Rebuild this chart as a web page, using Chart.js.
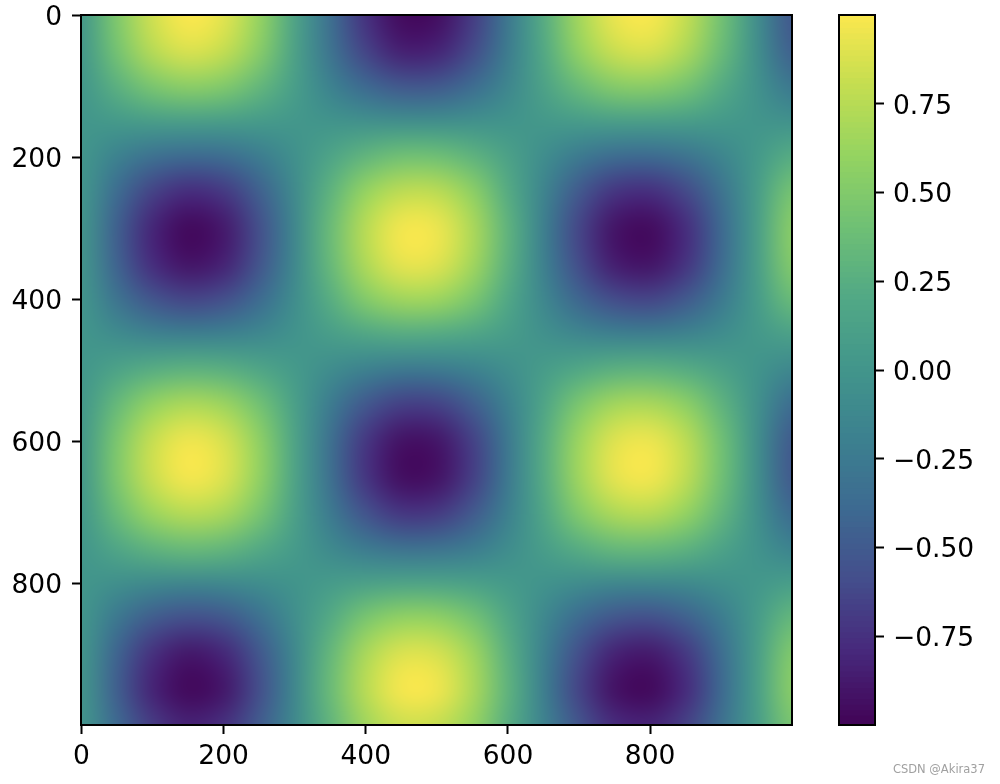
<!DOCTYPE html>
<html>
<head>
<meta charset="utf-8">
<title>Heatmap</title>
<script src="https://cdn.jsdelivr.net/npm/chart.js@4"></script>
<style>
  html, body { margin: 0; background: #fff; }
  #wrap { position: relative; width: 1000px; height: 784px; overflow: hidden; }
  canvas { position: absolute; left: 0; top: 0; }
  #mark { position: absolute; right: 15px; top: 762px; font: 11.5px "DejaVu Sans", sans-serif; color: #a0a0a0; }
</style>
</head>
<body>
<div id="wrap">
  <canvas id="heat" width="1000" height="784"></canvas>
  <canvas id="bar" width="1000" height="784"></canvas>
  <div id="mark">CSDN @Akira37</div>
</div>
<script>
// sample positions of the values (pixels of the image data)
const gridX = [0, 50, 100, 150, 200, 250, 300, 350, 400, 450, 500, 550, 600, 650, 700, 750, 800, 850, 900, 950, 1000];
const gridY = [0, 50, 100, 150, 200, 250, 300, 350, 400, 450, 500, 550, 600, 650, 700, 750, 800, 850, 900, 950, 1000];

// one row per gridY entry
const zRows = [
  [0, .48, .84, 1, .91, .60, .14, -.35, -.76, -.98, -.96, -.71, -.28, .22, .66, .94, .99, .80, .41, -.08, -.54],
  [0, .42, .74, .88, .80, .53, .12, -.31, -.66, -.86, -.84, -.62, -.24, .19, .58, .82, .87, .70, .36, -.07, -.48],
  [0, .26, .45, .54, .49, .32, .08, -.19, -.41, -.53, -.52, -.38, -.15, .12, .35, .51, .53, .43, .22, -.04, -.29],
  [0, .03, .06, .07, .06, .04, .01, -.02, -.05, -.07, -.07, -.05, -.02, .02, .05, .07, .07, .06, .03, -.01, -.04],
  [0, -.20, -.35, -.41, -.38, -.25, -.06, .15, .31, .41, .40, .29, .12, -.09, -.27, -.39, -.41, -.33, -.17, .03, .23],
  [0, -.38, -.67, -.80, -.73, -.48, -.11, .28, .61, .78, .77, .57, .22, -.17, -.53, -.75, -.79, -.64, -.33, .06, .44],
  [0, -.47, -.83, -.99, -.90, -.59, -.14, .35, .75, .97, .95, .70, .28, -.21, -.65, -.93, -.98, -.79, -.41, .07, .54],
  [0, -.45, -.79, -.93, -.85, -.56, -.13, .33, .71, .92, .90, .66, .26, -.20, -.61, -.88, -.93, -.75, -.39, .07, .51],
  [0, -.31, -.55, -.65, -.59, -.39, -.09, .23, .50, .64, .63, .46, .18, -.14, -.43, -.61, -.65, -.52, -.27, .05, .36],
  [0, -.10, -.18, -.21, -.19, -.13, -.03, .07, .16, .21, .20, .15, .06, -.05, -.14, -.20, -.21, -.17, -.09, .02, .11],
  [0, .14, .24, .28, .26, .17, .04, -.10, -.21, -.28, -.27, -.20, -.08, .06, .19, .27, .28, .23, .12, -.02, -.15],
  [0, .34, .60, .71, .64, .42, .10, -.25, -.54, -.69, -.68, -.50, -.20, .15, .47, .67, .70, .57, .29, -.05, -.39],
  [0, .46, .81, .96, .87, .57, .14, -.34, -.73, -.94, -.92, -.68, -.27, .21, .63, .90, .95, .77, .40, -.07, -.52],
  [0, .47, .82, .98, .89, .58, .14, -.34, -.74, -.96, -.94, -.69, -.27, .21, .64, .92, .97, .78, .40, -.07, -.53],
  [0, .36, .63, .75, .69, .45, .11, -.26, -.57, -.74, -.72, -.53, -.21, .16, .50, .71, .75, .60, .31, -.06, -.41],
  [0, .17, .29, .35, .32, .21, .05, -.12, -.26, -.34, -.33, -.25, -.10, .07, .23, .33, .34, .28, .14, -.03, -.19],
  [0, -.07, -.12, -.15, -.13, -.09, -.02, .05, .11, .14, .14, .10, .04, -.03, -.10, -.14, -.14, -.12, -.06, .01, .08],
  [0, -.29, -.51, -.60, -.55, -.36, -.08, .21, .46, .59, .58, .43, .17, -.13, -.40, -.56, -.60, -.48, -.25, .05, .33],
  [0, -.44, -.77, -.91, -.83, -.54, -.13, .32, .69, .89, .87, .65, .25, -.20, -.60, -.85, -.90, -.73, -.37, .07, .50],
  [0, -.48, -.84, -.99, -.91, -.60, -.14, .35, .75, .98, .96, .70, .28, -.22, -.66, -.94, -.99, -.80, -.41, .08, .54],
  [0, -.40, -.70, -.84, -.76, -.50, -.12, .29, .64, .82, .80, .60, .23, -.18, -.55, -.79, -.83, -.67, -.34, .06, .45],
];

const xTicks = [0, 200, 400, 600, 800];
const yTicks = [0, 200, 400, 600, 800];
const barTicks = [-0.75, -0.5, -0.25, 0, 0.25, 0.5, 0.75];

// colour ramp as it looks in the reference colorbar, -1 to 1 in equal steps (a washed-out viridis)
const RAMP = [
  [66, 5, 88], [71, 41, 124], [68, 78, 140], [61, 106, 145], [60, 129, 143], [66, 150, 139],
  [82, 169, 133], [112, 193, 116], [150, 212, 96], [198, 222, 80], [254, 232, 78],
];
const FONT = { family: 'DejaVu Sans', size: 26.5 };

function colorOf(v) {
  const t = Math.max(0, Math.min(1, (v + 1) / 2)) * (RAMP.length - 1);
  const i = Math.min(Math.floor(t), RAMP.length - 2), f = t - i;
  const c = RAMP[i].map((a, k) => Math.round(a + (RAMP[i + 1][k] - a) * f));
  return 'rgb(' + c.join(',') + ')';
}

const heatPoints = gridY.flatMap((y, r) => gridX.map((x, c) => ({ x, y, v: zRows[r][c] })));

// paints each value as one texel, then lets the canvas smooth it up to the scale positions
const heatPlugin = {
  id: 'heatPlugin',
  beforeDatasetsDraw(chart) {
    const { ctx, chartArea: a, scales } = chart;
    const cols = gridX.length, rows = gridY.length;
    const off = document.createElement('canvas');
    off.width = cols; off.height = rows;
    const o = off.getContext('2d');
    heatPoints.forEach((p, i) => {
      o.fillStyle = colorOf(p.v);
      o.fillRect(i % cols, Math.floor(i / cols), 1, 1);
    });
    const w = scales.x.getPixelForValue(gridX[1]) - scales.x.getPixelForValue(gridX[0]);
    const h = scales.y.getPixelForValue(gridY[1]) - scales.y.getPixelForValue(gridY[0]);
    ctx.save();
    ctx.beginPath(); ctx.rect(a.left, a.top, a.right - a.left, a.bottom - a.top); ctx.clip();
    ctx.imageSmoothingEnabled = true;
    ctx.imageSmoothingQuality = 'high';
    ctx.drawImage(off, scales.x.getPixelForValue(gridX[0]) - w / 2, scales.y.getPixelForValue(gridY[0]) - h / 2, w * cols, h * rows);
    ctx.restore();
  },
};

const framePlugin = {
  id: 'framePlugin',
  afterDatasetsDraw(chart) {
    const { ctx, chartArea: a } = chart;
    ctx.save();
    ctx.strokeStyle = '#000';
    ctx.lineWidth = 2;
    ctx.strokeRect(a.left, a.top, a.right - a.left, a.bottom - a.top);
    ctx.restore();
  },
};

const tickGrid = { drawOnChartArea: false, drawTicks: true, tickLength: 9, tickWidth: 2, tickColor: '#000' };

new Chart(document.getElementById('heat'), {
  type: 'scatter',
  data: { datasets: [{ data: heatPoints, pointRadius: 0 }] },
  options: {
    responsive: false, animation: false,
    layout: { padding: { left: 0, top: 15, right: 208, bottom: 0 } },
    plugins: { legend: { display: false }, tooltip: { enabled: false } },
    scales: {
      x: {
        type: 'linear', min: -0.5, max: 999.5,
        grid: tickGrid, border: { display: false },
        ticks: { color: '#000', font: FONT, padding: 7, maxRotation: 0 },
        afterBuildTicks: (s) => { s.ticks = xTicks.map((value) => ({ value })); },
        afterFit: (s) => { s.height = 59; s.paddingLeft = 0; s.paddingRight = 0; },
      },
      y: {
        type: 'linear', reverse: true, min: -0.5, max: 999.5,
        grid: tickGrid, border: { display: false },
        ticks: { color: '#000', font: FONT, padding: 10, labelOffset: 3 },
        afterBuildTicks: (s) => { s.ticks = yTicks.map((value) => ({ value })); },
        afterFit: (s) => { s.width = 81; s.paddingTop = 0; s.paddingBottom = 0; },
      },
    },
  },
  plugins: [heatPlugin, framePlugin],
});

// colorbar: one thin floating bar per level, overlapped a little so no seams show
const barStep = 2 / 128;
const barLevels = Array.from({ length: 128 }, (_, i) => -1 + i * barStep);

new Chart(document.getElementById('bar'), {
  type: 'bar',
  data: {
    labels: ['cb'],
    datasets: barLevels.map((v) => ({
      data: [[v, Math.min(1, v + barStep * 1.6)]],
      backgroundColor: colorOf(v + barStep / 2),
      borderWidth: 0, grouped: false, barPercentage: 1, categoryPercentage: 1,
    })),
  },
  options: {
    responsive: false, animation: false,
    layout: { padding: { left: 839, top: 15, right: 0, bottom: 59 } },
    plugins: { legend: { display: false }, tooltip: { enabled: false } },
    scales: {
      x: { display: false },
      y: {
        position: 'right', min: -1, max: 1,
        grid: tickGrid, border: { display: false },
        ticks: {
          color: '#000', font: FONT, padding: 9, labelOffset: 3,
          callback: (v) => (v < 0 ? '\u2212' : '') + Math.abs(v).toFixed(2),
        },
        afterBuildTicks: (s) => { s.ticks = barTicks.map((value) => ({ value })); },
        afterFit: (s) => { s.width = 125; s.paddingTop = 0; s.paddingBottom = 0; },
      },
    },
  },
  plugins: [framePlugin],
});
</script>
</body>
</html>
